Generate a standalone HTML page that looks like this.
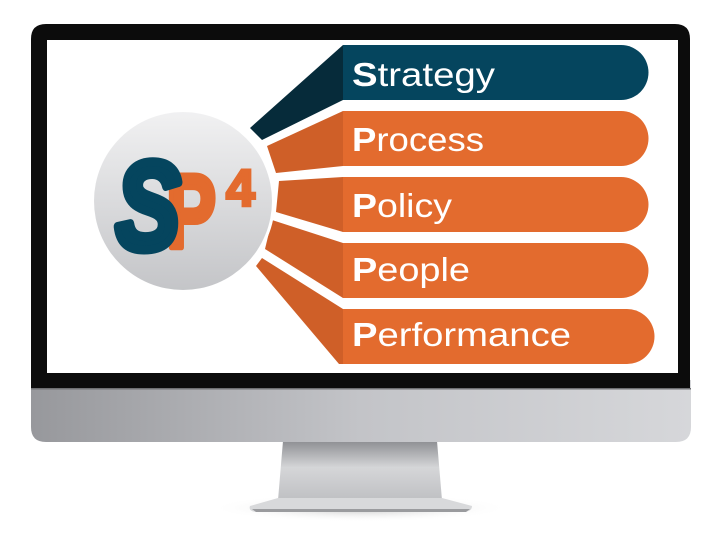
<!DOCTYPE html>
<html><head><meta charset="utf-8"><style>
html,body{margin:0;padding:0;background:#fff;width:722px;height:540px;overflow:hidden}
</style></head><body>
<svg width="722" height="540" viewBox="0 0 722 540" xmlns="http://www.w3.org/2000/svg" style="display:block">
<defs>
<linearGradient id="silver" x1="0" x2="1" y1="0" y2="0">
<stop offset="0" stop-color="#97989c"/><stop offset="0.5" stop-color="#c3c4c8"/><stop offset="1" stop-color="#d6d7da"/>
</linearGradient>
<linearGradient id="neck" x1="0" x2="0" y1="0" y2="1">
<stop offset="0" stop-color="#8e8f93"/><stop offset="0.45" stop-color="#d5d6d8"/><stop offset="1" stop-color="#bfc0c3"/>
</linearGradient>
<linearGradient id="ball" x1="0" x2="0" y1="0" y2="1">
<stop offset="0" stop-color="#f1f1f2"/><stop offset="1" stop-color="#c4c5c8"/>
</linearGradient>
<radialGradient id="shadow" cx="0.5" cy="0.5" r="0.5">
<stop offset="0" stop-color="#999" stop-opacity="0.6"/><stop offset="1" stop-color="#fff" stop-opacity="0"/>
</radialGradient>
</defs>
<!-- stand -->
<ellipse cx="360" cy="508" rx="150" ry="14" fill="url(#shadow)"/>
<path d="M283 441 L437 441 L442 500 L278 500 Z" fill="url(#neck)"/>
<path d="M278 498 L442 498 L472 506 Q472 512 462 512 L258 512 Q248 512 250 506 Z" fill="#d8d9db"/>
<path d="M252 509 L470 509 L466 512 L256 512 Z" fill="#9a9b9e"/>
<!-- monitor -->
<path d="M31 380 L691 380 L691 427 Q691 442 676 442 L46 442 Q31 442 31 427 Z" fill="url(#silver)"/>
<path d="M46 24 L675 24 Q690 24 690 39 L690 389 L31 389 L31 39 Q31 24 46 24 Z" fill="#0c0c0c"/>
<rect x="31" y="388" width="660" height="1.5" fill="#6e6f72"/>
<rect x="47" y="40" width="631" height="333" fill="#fff"/>
<!-- connectors -->
<polygon points="250,128 343,45 343,100 262,140" fill="#062b3a"/>
<polygon points="267,146 343,111 343,166 276,173" fill="#cf5f28"/>
<polygon points="279,181 343,177 343,232 276,212" fill="#cf5f28"/>
<polygon points="272,220 343,243 343,298 265,249" fill="#cf5f28"/>
<polygon points="262,258 343,309 343,364 339,364 256,266" fill="#cf5f28"/>
<!-- bars -->
<path d="M343 45 H621 A27.5 27.5 0 0 1 621 100 H343 Z" fill="#05455e"/>
<path d="M343 111 H621 A27.5 27.5 0 0 1 621 166 H343 Z" fill="#e36b2e"/>
<path d="M343 177 H621 A27.5 27.5 0 0 1 621 232 H343 Z" fill="#e36b2e"/>
<path d="M343 243 H621 A27.5 27.5 0 0 1 621 298 H343 Z" fill="#e36b2e"/>
<path d="M343 309 H627 A27.5 27.5 0 0 1 627 364 H343 Z" fill="#e36b2e"/>
<g font-family="Liberation Sans, sans-serif" font-size="33" fill="#fff">
<text x="352" y="86" textLength="143" lengthAdjust="spacingAndGlyphs"><tspan font-weight="bold">S</tspan>trategy</text>
<text x="352" y="151" textLength="132" lengthAdjust="spacingAndGlyphs"><tspan font-weight="bold">P</tspan>rocess</text>
<text x="352" y="217" textLength="100" lengthAdjust="spacingAndGlyphs"><tspan font-weight="bold">P</tspan>olicy</text>
<text x="352" y="281" textLength="118" lengthAdjust="spacingAndGlyphs"><tspan font-weight="bold">P</tspan>eople</text>
<text x="352" y="346" textLength="219" lengthAdjust="spacingAndGlyphs"><tspan font-weight="bold">P</tspan>erformance</text>
</g>
<!-- circle -->
<circle cx="183" cy="201" r="92" fill="#fff"/>
<circle cx="183" cy="201" r="89" fill="url(#ball)"/>
<text x="166" y="247" font-family="Liberation Sans, sans-serif" font-weight="bold" font-size="104" fill="#e36b2e" stroke="#e36b2e" stroke-width="6" stroke-linejoin="round" textLength="50" lengthAdjust="spacingAndGlyphs">P</text>
<text x="226" y="206" font-family="Liberation Sans, sans-serif" font-weight="bold" font-size="52" fill="#e36b2e" stroke="#e36b2e" stroke-width="3">4</text>
<text x="116" y="249" font-family="Liberation Sans, sans-serif" font-weight="bold" font-style="italic" font-size="124" fill="#05455e" stroke="#05455e" stroke-width="9" stroke-linejoin="round" textLength="64" lengthAdjust="spacingAndGlyphs">S</text>
</svg>
</body></html>
